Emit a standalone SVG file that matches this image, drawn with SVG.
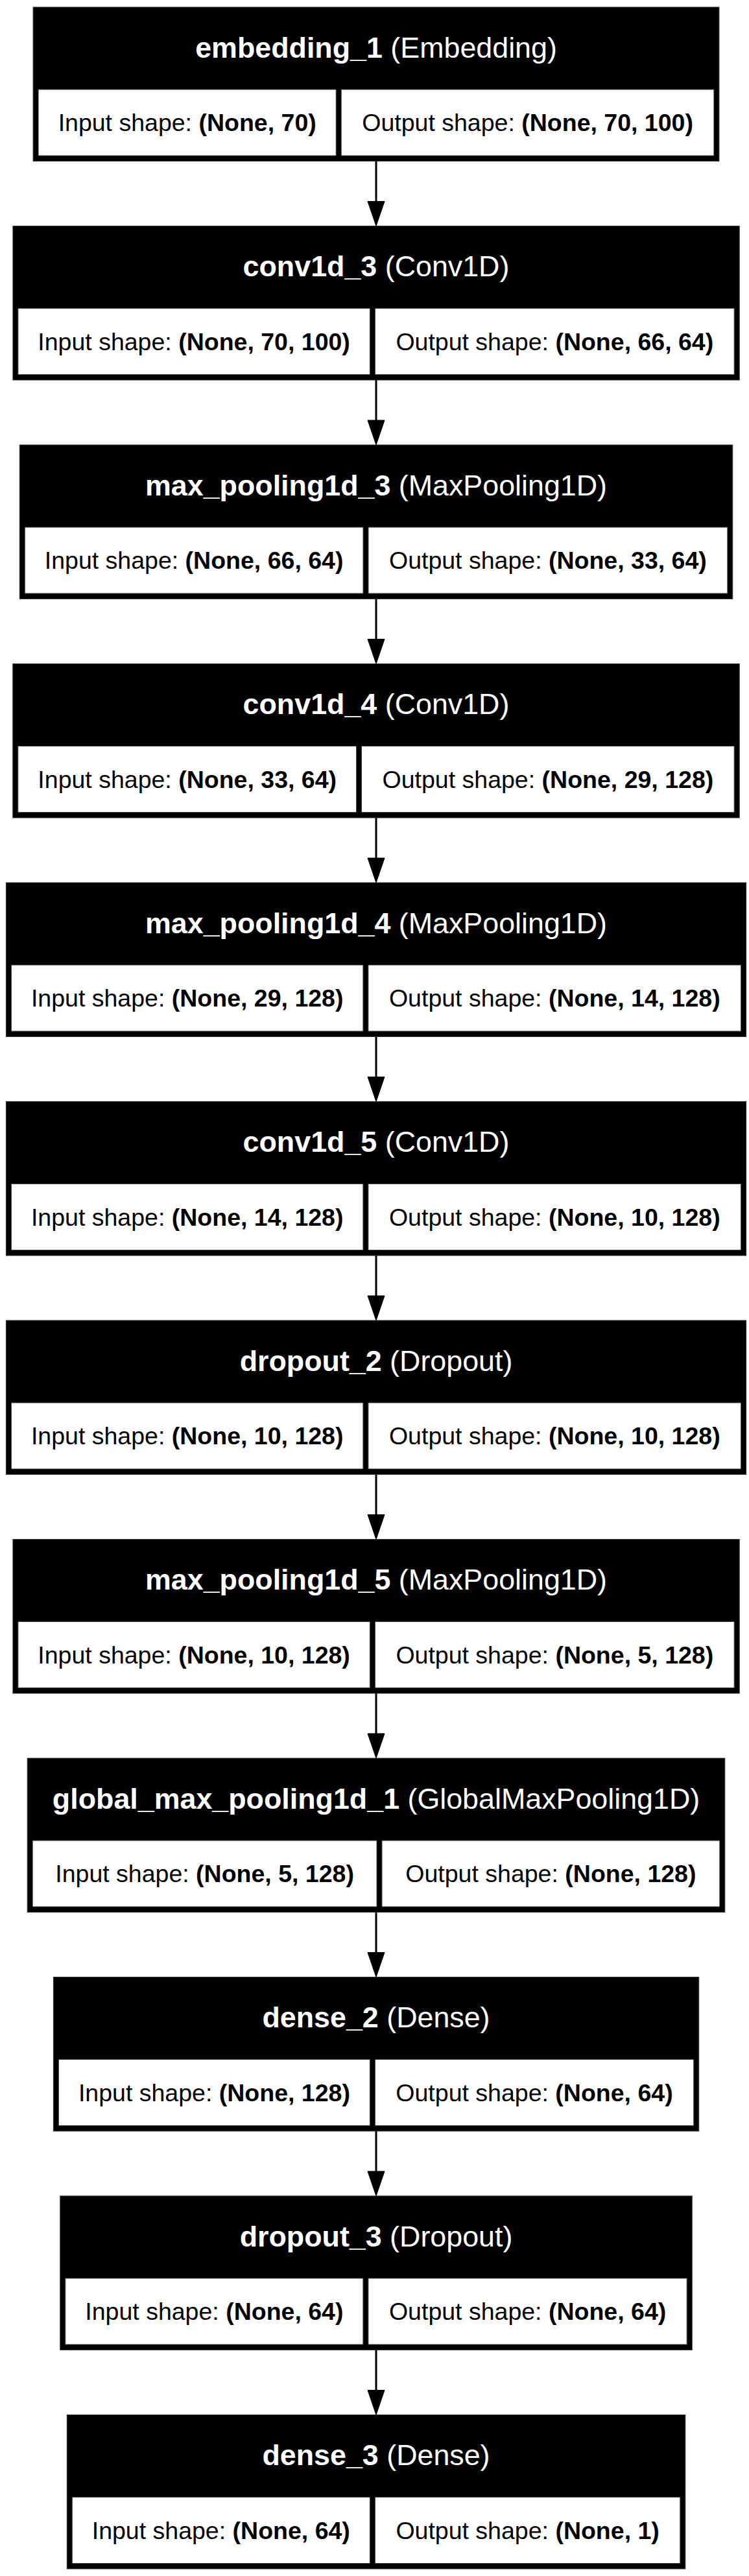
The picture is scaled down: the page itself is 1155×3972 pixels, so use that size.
<svg xmlns="http://www.w3.org/2000/svg" width="1155" height="3972" viewBox="0 0 1155 3972">
<style>
.box{fill:#000;stroke:#333;stroke-width:1}
.cell{fill:#fff;stroke:#444;stroke-width:1}
.t{font-family:"Liberation Sans",Arial,sans-serif;font-size:44.8px;fill:#fff;text-anchor:middle}
.c{font-family:"Liberation Sans",Arial,sans-serif;font-size:37.5px;fill:#000;text-anchor:middle}
.b{font-weight:bold}
.edge{stroke:#000;stroke-width:3;fill:none}
</style>
<defs>
<marker id="ah" markerUnits="userSpaceOnUse" markerWidth="40" markerHeight="30" refX="0" refY="0" orient="auto" viewBox="0 -15 40 30" overflow="visible">
<path d="M0,-13 L38,0 L0,13 Z" fill="#000" stroke="#000" stroke-width="1"/>
</marker>
</defs>
<rect width="1155" height="3972" fill="#fff"/>
<g id="edges">
<line class="edge" x1="580" y1="248.5" x2="580" y2="310.5" marker-end="url(#ah)"/>
<line class="edge" x1="580" y1="586" x2="580" y2="648" marker-end="url(#ah)"/>
<line class="edge" x1="580" y1="923.5" x2="580" y2="985.5" marker-end="url(#ah)"/>
<line class="edge" x1="580" y1="1261" x2="580" y2="1323" marker-end="url(#ah)"/>
<line class="edge" x1="580" y1="1598.5" x2="580" y2="1660.5" marker-end="url(#ah)"/>
<line class="edge" x1="580" y1="1936" x2="580" y2="1998" marker-end="url(#ah)"/>
<line class="edge" x1="580" y1="2273.5" x2="580" y2="2335.5" marker-end="url(#ah)"/>
<line class="edge" x1="580" y1="2611" x2="580" y2="2673" marker-end="url(#ah)"/>
<line class="edge" x1="580" y1="2948.5" x2="580" y2="3010.5" marker-end="url(#ah)"/>
<line class="edge" x1="580" y1="3286" x2="580" y2="3348" marker-end="url(#ah)"/>
<line class="edge" x1="580" y1="3623.5" x2="580" y2="3685.5" marker-end="url(#ah)"/>
</g>
<g id="embedding_1">
<rect class="box" x="51.1" y="11" width="1057.8" height="237.5"/>
<rect class="cell" x="59.1" y="138" width="459.1" height="102"/>
<rect class="cell" x="526.2" y="138" width="574.7" height="102"/>
<text class="t" x="580" y="88.5"><tspan class="b">embedding_1</tspan> (Embedding)</text>
<text class="c" x="288.7" y="202">Input shape: <tspan class="b">(None, 70)</tspan></text>
<text class="c" x="813.6" y="202">Output shape: <tspan class="b">(None, 70, 100)</tspan></text>
</g>
<g id="conv1d_3">
<rect class="box" x="19.9" y="348.5" width="1120.3" height="237.5"/>
<rect class="cell" x="27.9" y="475.5" width="542.5" height="102"/>
<rect class="cell" x="578.4" y="475.5" width="553.8" height="102"/>
<text class="t" x="580" y="426"><tspan class="b">conv1d_3</tspan> (Conv1D)</text>
<text class="c" x="299.1" y="539.5">Input shape: <tspan class="b">(None, 70, 100)</tspan></text>
<text class="c" x="855.3" y="539.5">Output shape: <tspan class="b">(None, 66, 64)</tspan></text>
</g>
<g id="max_pooling1d_3">
<rect class="box" x="30.3" y="686" width="1099.5" height="237.5"/>
<rect class="cell" x="38.3" y="813" width="521.7" height="102"/>
<rect class="cell" x="568" y="813" width="553.8" height="102"/>
<text class="t" x="580" y="763.5"><tspan class="b">max_pooling1d_3</tspan> (MaxPooling1D)</text>
<text class="c" x="299.1" y="877">Input shape: <tspan class="b">(None, 66, 64)</tspan></text>
<text class="c" x="844.9" y="877">Output shape: <tspan class="b">(None, 33, 64)</tspan></text>
</g>
<g id="conv1d_4">
<rect class="box" x="19.8" y="1023.5" width="1120.4" height="237.5"/>
<rect class="cell" x="27.8" y="1150.5" width="521.7" height="102"/>
<rect class="cell" x="557.5" y="1150.5" width="574.7" height="102"/>
<text class="t" x="580" y="1101"><tspan class="b">conv1d_4</tspan> (Conv1D)</text>
<text class="c" x="288.7" y="1214.5">Input shape: <tspan class="b">(None, 33, 64)</tspan></text>
<text class="c" x="844.9" y="1214.5">Output shape: <tspan class="b">(None, 29, 128)</tspan></text>
</g>
<g id="max_pooling1d_4">
<rect class="box" x="9.4" y="1361" width="1141.2" height="237.5"/>
<rect class="cell" x="17.4" y="1488" width="542.5" height="102"/>
<rect class="cell" x="567.9" y="1488" width="574.7" height="102"/>
<text class="t" x="580" y="1438.5"><tspan class="b">max_pooling1d_4</tspan> (MaxPooling1D)</text>
<text class="c" x="288.7" y="1552">Input shape: <tspan class="b">(None, 29, 128)</tspan></text>
<text class="c" x="855.3" y="1552">Output shape: <tspan class="b">(None, 14, 128)</tspan></text>
</g>
<g id="conv1d_5">
<rect class="box" x="9.4" y="1698.5" width="1141.2" height="237.5"/>
<rect class="cell" x="17.4" y="1825.5" width="542.5" height="102"/>
<rect class="cell" x="567.9" y="1825.5" width="574.7" height="102"/>
<text class="t" x="580" y="1776"><tspan class="b">conv1d_5</tspan> (Conv1D)</text>
<text class="c" x="288.7" y="1889.5">Input shape: <tspan class="b">(None, 14, 128)</tspan></text>
<text class="c" x="855.3" y="1889.5">Output shape: <tspan class="b">(None, 10, 128)</tspan></text>
</g>
<g id="dropout_2">
<rect class="box" x="9.4" y="2036" width="1141.2" height="237.5"/>
<rect class="cell" x="17.4" y="2163" width="542.5" height="102"/>
<rect class="cell" x="567.9" y="2163" width="574.7" height="102"/>
<text class="t" x="580" y="2113.5"><tspan class="b">dropout_2</tspan> (Dropout)</text>
<text class="c" x="288.7" y="2227">Input shape: <tspan class="b">(None, 10, 128)</tspan></text>
<text class="c" x="855.3" y="2227">Output shape: <tspan class="b">(None, 10, 128)</tspan></text>
</g>
<g id="max_pooling1d_5">
<rect class="box" x="19.9" y="2373.5" width="1120.3" height="237.5"/>
<rect class="cell" x="27.9" y="2500.5" width="542.5" height="102"/>
<rect class="cell" x="578.4" y="2500.5" width="553.8" height="102"/>
<text class="t" x="580" y="2451"><tspan class="b">max_pooling1d_5</tspan> (MaxPooling1D)</text>
<text class="c" x="299.1" y="2564.5">Input shape: <tspan class="b">(None, 10, 128)</tspan></text>
<text class="c" x="855.3" y="2564.5">Output shape: <tspan class="b">(None, 5, 128)</tspan></text>
</g>
<g id="global_max_pooling1d_1">
<rect class="box" x="42.2" y="2711" width="1075.6" height="237.5"/>
<rect class="cell" x="50.2" y="2838" width="530.8" height="102"/>
<rect class="cell" x="589" y="2838" width="520.8" height="102"/>
<text class="t" x="580" y="2788.5"><tspan class="b">global_max_pooling1d_1</tspan> (GlobalMaxPooling1D)</text>
<text class="c" x="315.6" y="2902">Input shape: <tspan class="b">(None, 5, 128)</tspan></text>
<text class="c" x="849.4" y="2902">Output shape: <tspan class="b">(None, 128)</tspan></text>
</g>
<g id="dense_2">
<rect class="box" x="82.4" y="3048.5" width="995.3" height="237.5"/>
<rect class="cell" x="90.4" y="3175.5" width="480" height="102"/>
<rect class="cell" x="578.4" y="3175.5" width="491.3" height="102"/>
<text class="t" x="580" y="3126"><tspan class="b">dense_2</tspan> (Dense)</text>
<text class="c" x="330.4" y="3239.5">Input shape: <tspan class="b">(None, 128)</tspan></text>
<text class="c" x="824" y="3239.5">Output shape: <tspan class="b">(None, 64)</tspan></text>
</g>
<g id="dropout_3">
<rect class="box" x="92.8" y="3386" width="974.4" height="237.5"/>
<rect class="cell" x="100.8" y="3513" width="459.1" height="102"/>
<rect class="cell" x="567.9" y="3513" width="491.3" height="102"/>
<text class="t" x="580" y="3463.5"><tspan class="b">dropout_3</tspan> (Dropout)</text>
<text class="c" x="330.4" y="3577">Input shape: <tspan class="b">(None, 64)</tspan></text>
<text class="c" x="813.6" y="3577">Output shape: <tspan class="b">(None, 64)</tspan></text>
</g>
<g id="dense_3">
<rect class="box" x="103.3" y="3723.5" width="953.5" height="237.5"/>
<rect class="cell" x="111.3" y="3850.5" width="459.1" height="102"/>
<rect class="cell" x="578.4" y="3850.5" width="470.4" height="102"/>
<text class="t" x="580" y="3801"><tspan class="b">dense_3</tspan> (Dense)</text>
<text class="c" x="340.8" y="3914.5">Input shape: <tspan class="b">(None, 64)</tspan></text>
<text class="c" x="813.6" y="3914.5">Output shape: <tspan class="b">(None, 1)</tspan></text>
</g>
</svg>
